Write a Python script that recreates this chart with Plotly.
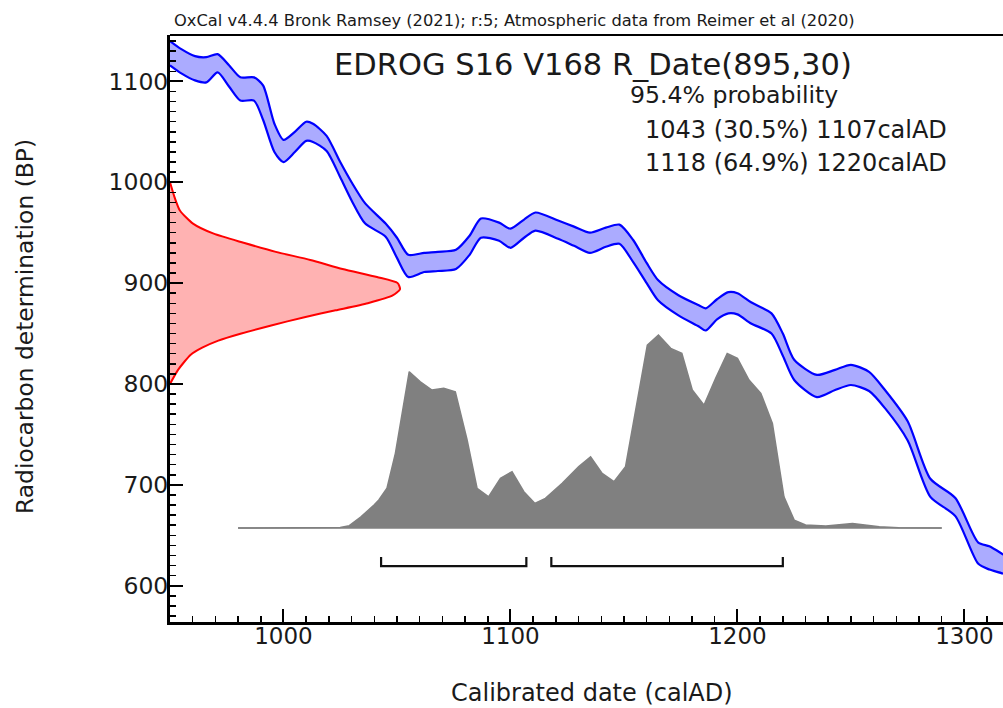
import plotly.graph_objects as go

# ---------------- data ----------------
# calibration curve (IntCal20) 1-sigma envelope
curve_years = [950, 955, 961, 966, 971, 976, 981, 987, 991, 996, 1000, 1005, 1010, 1013, 1019,
               1025, 1030, 1036, 1045, 1050, 1055, 1062, 1068, 1076, 1082, 1087, 1095, 1100,
               1106, 1111, 1121, 1128, 1135, 1142, 1148, 1154, 1160, 1165, 1174, 1183, 1186,
               1191, 1196, 1200, 1206, 1215, 1220, 1225, 1235, 1243, 1250, 1258, 1265, 1275,
               1285, 1296, 1306, 1311, 1317, 1322]
curve_upper = [1140, 1132, 1125, 1124, 1127, 1116, 1104, 1104, 1096, 1058, 1042, 1050, 1060, 1058,
               1046, 1020, 1000, 979, 959, 945, 928, 930, 931, 933, 947, 964, 960, 954, 963, 970,
               962, 956, 950, 955, 958, 943, 920, 903, 888, 878, 875, 884, 891, 890, 881, 870,
               850, 824, 809, 814, 819, 812, 794, 763, 706, 687, 643, 639, 631, 624]
curve_lower = [1116, 1108, 1101, 1099, 1109, 1095, 1081, 1081, 1062, 1030, 1020, 1030, 1041, 1040,
               1031, 1005, 982, 959, 946, 925, 906, 911, 912, 914, 928, 945, 942, 935, 945, 952,
               944, 937, 930, 936, 939, 921, 900, 883, 868, 857, 853, 864, 870, 869, 860, 850,
               828, 804, 787, 794, 799, 793, 776, 744, 688, 669, 622, 616, 612, 606]

# radiocarbon measurement 895 +/- 30 BP (relative density)
r_bp = [1000, 985, 972, 959, 949, 940, 931, 923, 914, 906, 900, 894, 888, 880, 873, 866,
        858, 850, 843, 836, 829, 814, 800]
r_density = [0.0, 0.02, 0.043, 0.10, 0.19, 0.32, 0.46, 0.61, 0.75, 0.90, 0.99, 1.0, 0.97, 0.86,
             0.72, 0.58, 0.44, 0.31, 0.21, 0.14, 0.09, 0.035, 0.0]

# calibrated probability distribution (relative)
dist_years = [980, 1025, 1029, 1034, 1040, 1042, 1045.6, 1049.3, 1055.4, 1060.3, 1065.4, 1070.6,
              1075.7, 1080.9, 1085.3, 1090.4, 1095.6, 1100.7, 1105.9, 1110.7, 1115.4, 1122.8,
              1130.1, 1135.3, 1140.4, 1145.6, 1150.7, 1155.1, 1160.3, 1165.2, 1170.6, 1175.5,
              1180.1, 1185.3, 1190.4, 1195.5, 1200, 1205.1, 1210.3, 1215.4, 1218.3, 1220.5,
              1225, 1230, 1239, 1250.7, 1262.5, 1271, 1290]
dist_prob = [0, 0.003, 0.012, 0.057, 0.12, 0.145, 0.206, 0.387, 0.81, 0.758, 0.715, 0.724, 0.706,
             0.456, 0.206, 0.162, 0.258, 0.292, 0.188, 0.128, 0.154, 0.232, 0.318, 0.369, 0.283,
             0.24, 0.318, 0.611, 0.948, 1.0, 0.931, 0.905, 0.715, 0.637, 0.776, 0.905, 0.879,
             0.767, 0.698, 0.542, 0.335, 0.162, 0.041, 0.016, 0.01, 0.024, 0.007, 0.002, 0]

# 95.4% ranges
range_start = [1043, 1118]
range_end = [1107, 1220]
range_pct = ["30.5%", "64.9%"]

title = "EDROG S16 V168 R_Date(895,30)"
header = "OxCal v4.4.4 Bronk Ramsey (2021); r:5; Atmospheric data from Reimer et al (2020)"
x_ticks = [1000, 1100, 1200, 1300]
y_ticks = [600, 700, 800, 900, 1000, 1100]

# ---------------- figure ----------------
W, H = 1003, 708
L, R, T, B = 170, 0, 35, 86
PW, PH = W - L - R, H - T - B
FONT = "DejaVu Sans, Liberation Sans, Arial, sans-serif"
TXT = "#1a1a1a"


def px(xp):
    return (xp - L) / PW


def py(yp):
    return (H - B - yp) / PH


fig = go.Figure()

# calibration band
fig.add_trace(go.Scatter(
    x=curve_years + curve_years[::-1], y=curve_upper + curve_lower[::-1],
    fill="toself", fillcolor="rgba(0,0,255,0.33)",
    line=dict(width=0, shape="spline", smoothing=0.7),
    mode="lines", hoverinfo="skip", showlegend=False))
for arr in (curve_upper, curve_lower):
    fig.add_trace(go.Scatter(x=curve_years, y=arr, mode="lines",
                             line=dict(color="#0000ff", width=2.2, shape="spline", smoothing=0.7),
                             hoverinfo="skip", showlegend=False))

# radiocarbon distribution on the y axis
fig.add_trace(go.Scatter(
    x=r_density, y=r_bp, xaxis="x2", yaxis="y", mode="lines",
    line=dict(color="#ff0000", width=2, shape="spline", smoothing=0.6),
    fill="tozerox", fillcolor="rgba(255,0,0,0.3)",
    hoverinfo="skip", showlegend=False))

# calibrated distribution
fig.add_trace(go.Scatter(
    x=dist_years, y=dist_prob, xaxis="x", yaxis="y2", mode="lines",
    line=dict(color="#808080", width=1.5), fill="tozeroy", fillcolor="#808080",
    hoverinfo="skip", showlegend=False))
fig.add_trace(go.Scatter(
    x=[dist_years[0], dist_years[-1]], y=[0, 0], xaxis="x", yaxis="y2", mode="lines",
    line=dict(color="#808080", width=1.5), hoverinfo="skip", showlegend=False))

# range brackets
for s, e in zip(range_start, range_end):
    fig.add_trace(go.Scatter(
        x=[s, s, e, e], y=[-0.150, -0.197, -0.197, -0.150], xaxis="x", yaxis="y2",
        mode="lines", line=dict(color="#111111", width=2.2),
        hoverinfo="skip", showlegend=False))

fig.update_layout(
    width=W, height=H, margin=dict(l=L, r=R, t=T, b=B),
    paper_bgcolor="white", plot_bgcolor="white",
    font=dict(family=FONT, color=TXT),
    xaxis=dict(range=[950, 1317], tickvals=x_ticks, ticks="inside", ticklen=13, tickwidth=2,
               tickcolor="black", showline=True, linecolor="black", linewidth=3,
               showgrid=False, zeroline=False, tickfont=dict(size=23, family=FONT, color=TXT),
               ticklabelstandoff=-9,
               minor=dict(dtick=10, ticks="inside", ticklen=6, tickwidth=1.5, tickcolor="black",
                          showgrid=False)),
    yaxis=dict(range=[564, 1146], tickvals=y_ticks, ticks="inside", ticklen=13, tickwidth=2,
               tickcolor="black", showline=True, linecolor="black", linewidth=3,
               showgrid=False, zeroline=False, tickfont=dict(size=23.5, family=FONT, color=TXT),
               ticklabelstandoff=-6,
               minor=dict(dtick=10, ticks="inside", ticklen=6, tickwidth=1.5, tickcolor="black",
                          showgrid=False)),
    xaxis2=dict(overlaying="x", range=[0, PW / 230], visible=False, showgrid=False,
                zeroline=False),
    yaxis2=dict(overlaying="y", range=[-0.487, 2.555], visible=False, showgrid=False,
                zeroline=False),
    hovermode=False,
)

# top border
fig.add_shape(type="line", xref="paper", yref="paper", x0=0, x1=1, y0=1, y1=1,
              line=dict(color="black", width=2))

ann = [
    dict(text=header, x=px(172), y=py(20), xanchor="left", yanchor="middle", size=16.3),
    dict(text=title, x=px(593), y=py(64), xanchor="center", yanchor="middle", size=30.5),
    dict(text="95.4% probability", x=px(628), y=py(95), xanchor="left", yanchor="middle", size=23.6),
    dict(text=f"{range_start[0]} ({range_pct[0]}) {range_end[0]}calAD", x=px(643), y=py(130),
         xanchor="left", yanchor="middle", size=24),
    dict(text=f"{range_start[1]} ({range_pct[1]}) {range_end[1]}calAD", x=px(643), y=py(163),
         xanchor="left", yanchor="middle", size=24),
    dict(text="Calibrated date (calAD)", x=px(591.5), y=py(693), xanchor="center",
         yanchor="middle", size=24),
]
for a in ann:
    fig.add_annotation(text=a["text"], x=a["x"], y=a["y"], xref="paper", yref="paper",
                       xanchor=a["xanchor"], yanchor=a["yanchor"], showarrow=False,
                       font=dict(size=a["size"], family=FONT, color=TXT))
fig.add_annotation(text="Radiocarbon determination (BP)", x=px(25), y=py(327), xref="paper",
                   yref="paper", xanchor="center", yanchor="middle", textangle=-90,
                   showarrow=False, font=dict(size=23.4, family=FONT, color=TXT))

fig.write_html("out.html", config={"displayModeBar": False, "staticPlot": True},
               post_script="document.body.style.margin='0px';")
